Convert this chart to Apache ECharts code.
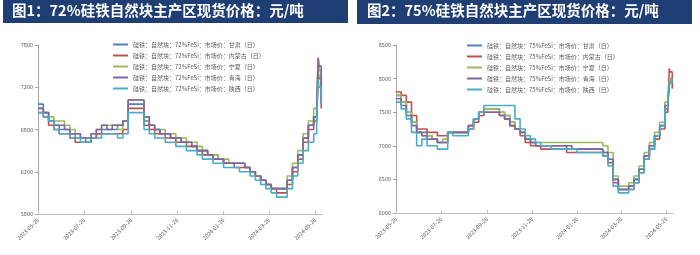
<!DOCTYPE html>
<html>
<head>
<meta charset="utf-8">
<script src="https://cdn.jsdelivr.net/npm/echarts@6/dist/echarts.min.js"></script>
<style>
html,body{margin:0;padding:0;background:#fff;}
#c{width:700px;height:255px;}
</style>
</head>
<body>
<div id="c"></div>
<script>
// ---- data ----
const dates = [
 '2023-05-26','2023-06-02','2023-06-09','2023-06-16','2023-06-23','2023-06-30','2023-07-07','2023-07-14',
 '2023-07-21','2023-07-28','2023-08-04','2023-08-11','2023-08-18','2023-08-25','2023-09-01','2023-09-08',
 '2023-09-15','2023-09-22','2023-09-29','2023-10-06','2023-10-13','2023-10-20','2023-10-27','2023-11-03',
 '2023-11-10','2023-11-17','2023-11-24','2023-12-01','2023-12-08','2023-12-15','2023-12-22','2023-12-29',
 '2024-01-05','2024-01-12','2024-01-19','2024-01-26','2024-02-02','2024-02-09','2024-02-16','2024-02-23',
 '2024-03-01','2024-03-08','2024-03-15','2024-03-22','2024-03-29','2024-04-05','2024-04-12','2024-04-19',
 '2024-04-26','2024-05-03','2024-05-10','2024-05-17','2024-05-24','2024-05-28','2024-05-30','2024-05-31',
 '2024-06-03'
];
const tickDates = ['2023-05-26','2023-07-26','2023-09-26','2023-11-26','2024-01-26','2024-03-26','2024-05-26'];
const yTicks72 = [5800, 6300, 6800, 7300, 7800];
const yTicks75 = [6000, 6500, 7000, 7500, 8000, 8500];

const regions = ['甘肃', '内蒙古', '宁夏', '青海', '陕西'];

// 72% FeSi
const gansu72 = [7100,7000,6900,6850,6800,6800,6750,6700,6700,6650,6700,6750,6800,6800,6800,6850,6900,7100,7100,7100,6900,6850,6800,6750,6750,6700,6700,6650,6650,6600,6550,6550,6500,6500,6450,6400,6400,6400,6400,6350,6300,6250,6200,6150,6100,6100,6100,6200,6350,6500,6700,6850,6950,7000,7600,7500,7100];
const neimeng72 = [7000,6950,6850,6800,6750,6750,6700,6650,6650,6650,6700,6750,6750,6750,6750,6750,6800,7050,7050,7050,6850,6800,6750,6750,6700,6700,6650,6650,6600,6600,6550,6500,6500,6450,6450,6400,6400,6350,6350,6350,6300,6250,6200,6150,6100,6050,6050,6150,6300,6450,6650,6800,6900,6950,7500,7400,7050];
const ningxia72 = [7050,7000,6950,6900,6900,6850,6800,6750,6700,6700,6750,6800,6850,6850,6850,6800,6900,7150,7150,7150,6950,6850,6800,6800,6750,6750,6700,6700,6650,6650,6600,6550,6500,6500,6450,6450,6400,6400,6400,6350,6300,6250,6200,6150,6100,6100,6100,6250,6400,6550,6750,6900,7050,7200,7650,7500,7150];
const qinghai72 = [7050,7000,6900,6850,6850,6800,6750,6750,6700,6700,6750,6800,6850,6800,6850,6850,6900,7150,7150,7150,6950,6850,6800,6750,6750,6700,6700,6650,6650,6600,6550,6550,6500,6450,6450,6400,6400,6400,6400,6350,6300,6250,6200,6150,6100,6100,6100,6200,6350,6500,6700,6850,6950,7050,7650,7550,7150];
const shaanxi72 = [7000,6950,6900,6800,6750,6750,6700,6700,6650,6650,6700,6700,6750,6750,6750,6700,6750,7000,7000,7000,6800,6750,6700,6700,6650,6650,6600,6600,6550,6550,6500,6450,6450,6400,6400,6350,6350,6350,6300,6300,6250,6200,6150,6100,6050,6000,6000,6100,6250,6400,6550,6650,6750,6900,7400,7300,7100];

// 75% FeSi
const gansu75 = [7750,7650,7500,7350,7200,7200,7150,7100,7050,7050,7200,7200,7200,7200,7300,7400,7500,7550,7550,7550,7500,7450,7350,7250,7200,7100,7050,7000,7000,7000,7000,7000,7000,6950,6950,6950,6950,6950,6950,6950,6900,6800,6500,6350,6350,6400,6500,6650,6850,7000,7150,7300,7550,7650,7900,8000,7950];
const neimeng75 = [7800,7750,7650,7450,7250,7250,7200,7200,7150,7150,7200,7200,7200,7200,7250,7350,7450,7500,7500,7500,7450,7400,7300,7250,7150,7050,7000,7000,6950,6950,6950,6950,6950,6900,6900,6900,6900,6900,6900,6900,6850,6750,6450,6350,6350,6350,6450,6600,6800,6950,7100,7250,7500,7600,8150,8100,7850];
const ningxia75 = [7750,7650,7500,7350,7200,7150,7150,7100,7050,7100,7200,7200,7200,7200,7300,7400,7500,7550,7550,7550,7500,7450,7350,7250,7200,7100,7050,7050,7050,7050,7050,7050,7050,7050,7050,7050,7050,7050,7050,7050,7000,6900,6550,6400,6400,6450,6550,6700,6900,7050,7200,7350,7650,7700,7950,8000,8000];
const qinghai75 = [7700,7600,7450,7300,7200,7150,7100,7100,7050,7050,7200,7200,7200,7200,7300,7400,7500,7500,7500,7500,7450,7400,7300,7250,7200,7100,7050,7000,7000,7000,7000,7000,7000,7000,6950,6950,6950,6950,6950,6950,6900,6800,6500,6350,6350,6400,6500,6650,6850,7000,7150,7300,7600,7650,7900,7950,7950];
const shaanxi75 = [7650,7550,7400,7200,7000,7100,7000,7000,6950,6950,7200,7150,7150,7150,7250,7400,7500,7600,7600,7600,7600,7600,7600,7400,7250,7150,7100,7050,7000,7000,6950,6950,6950,6950,6950,6900,6900,6900,6900,6900,6850,6700,6400,6300,6300,6350,6450,6600,6800,6950,7150,7300,7550,7650,7900,7950,8000];

const series72 = [gansu72, neimeng72, ningxia72, qinghai72, shaanxi72];
const series75 = [gansu75, neimeng75, ningxia75, qinghai75, shaanxi75];
const colors = ['#4F81BD', '#C0504D', '#9BBB59', '#8064A2', '#4BACC6'];

// ---- chart ----
const chart = echarts.init(document.getElementById('c'), null, {renderer: 'canvas'});
const P = s => { const p = s.split('-').map(Number); return Date.UTC(p[0], p[1] - 1, p[2]); };
const fmt = v => { const d = new Date(v); const m = d.getUTCMonth() + 1, dd = d.getUTCDate();
  return d.getUTCFullYear() + '-' + (m < 10 ? '0' : '') + m + '-' + (dd < 10 ? '0' : '') + dd; };
const tickVals = tickDates.map(P);
const names72 = regions.map(r => '硅铁：自然块：72%FeSi：市场价：' + r + '（日）');
const names75 = regions.map(r => '硅铁：自然块：75%FeSi：市场价：' + r + '（日）');
const FONT = '"Noto Sans CJK SC", "Noto Sans", sans-serif';

function xAxis(gi) {
  return {
    type: 'value', gridIndex: gi, min: P('2023-05-26'), max: P('2024-06-04'), scale: true,
    axisLine: {lineStyle: {color: '#bfbfbf', width: 1}},
    axisTick: {show: true, inside: true, length: 3, lineStyle: {color: '#bfbfbf'}, customValues: tickVals},
    axisLabel: {
      rotate: 45, fontSize: 5.5, color: '#595959', fontFamily: FONT, margin: 5,
      customValues: tickVals, hideOverlap: false, formatter: fmt
    },
    splitLine: {show: false}
  };
}
function yAxis(gi, ticks) {
  return {
    type: 'value', gridIndex: gi, min: ticks[0], max: ticks[ticks.length - 1],
    axisLine: {show: true, lineStyle: {color: '#a6a6a6', width: 1}},
    axisTick: {show: true, length: 3, lineStyle: {color: '#a6a6a6'}, customValues: ticks},
    axisLabel: {fontSize: 5.5, color: '#595959', fontFamily: FONT, margin: 5, customValues: ticks,
      formatter: v => String(v)},
    splitLine: {show: false}
  };
}
function legend(left, top, names) {
  return {
    data: names, left: left, top: top, orient: 'vertical',
    icon: 'rect', itemWidth: 15, itemHeight: 2, itemGap: 4,
    textStyle: {fontSize: 6, color: '#595959', fontFamily: FONT, lineHeight: 7},
    selectedMode: false
  };
}

const seriesList = [];
series72.forEach((arr, i) => seriesList.push({
  name: names72[i], type: 'line', xAxisIndex: 0, yAxisIndex: 0, step: 'end', symbol: 'none',
  color: colors[i], lineStyle: {width: 1.6, color: colors[i]},
  data: dates.map((d, k) => [P(d), arr[k]])
}));
series75.forEach((arr, i) => seriesList.push({
  name: names75[i], type: 'line', xAxisIndex: 1, yAxisIndex: 1, step: 'end', symbol: 'none',
  color: colors[i], lineStyle: {width: 1.6, color: colors[i]},
  data: dates.map((d, k) => [P(d), arr[k]])
}));

chart.setOption({
  animation: false,
  backgroundColor: '#ffffff',
  grid: [
    {left: 38, top: 45, width: 284, height: 169},
    {left: 396, top: 45, width: 277, height: 168}
  ],
  xAxis: [xAxis(0), xAxis(1)],
  yAxis: [yAxis(0, yTicks72), yAxis(1, yTicks75)],
  legend: [legend(108, 36, names72), legend(462, 37, names75)],
  graphic: [
    {type: 'rect', left: 3, top: 0, shape: {width: 345, height: 23}, style: {fill: '#1F3F74'}},
    {type: 'rect', left: 357, top: 0, shape: {width: 335, height: 24}, style: {fill: '#1F3F74'}},
    {type: 'text', left: 12, top: 3, style: {text: '图1：72%硅铁自然块主产区现货价格：元/吨', fill: '#ffffff', font: 'bold 14.5px "Noto Sans CJK SC"'}},
    {type: 'text', left: 367, top: 3, style: {text: '图2：75%硅铁自然块主产区现货价格：元/吨', fill: '#ffffff', font: 'bold 14.5px "Noto Sans CJK SC"'}}
  ],
  series: seriesList
});
</script>
</body>
</html>
